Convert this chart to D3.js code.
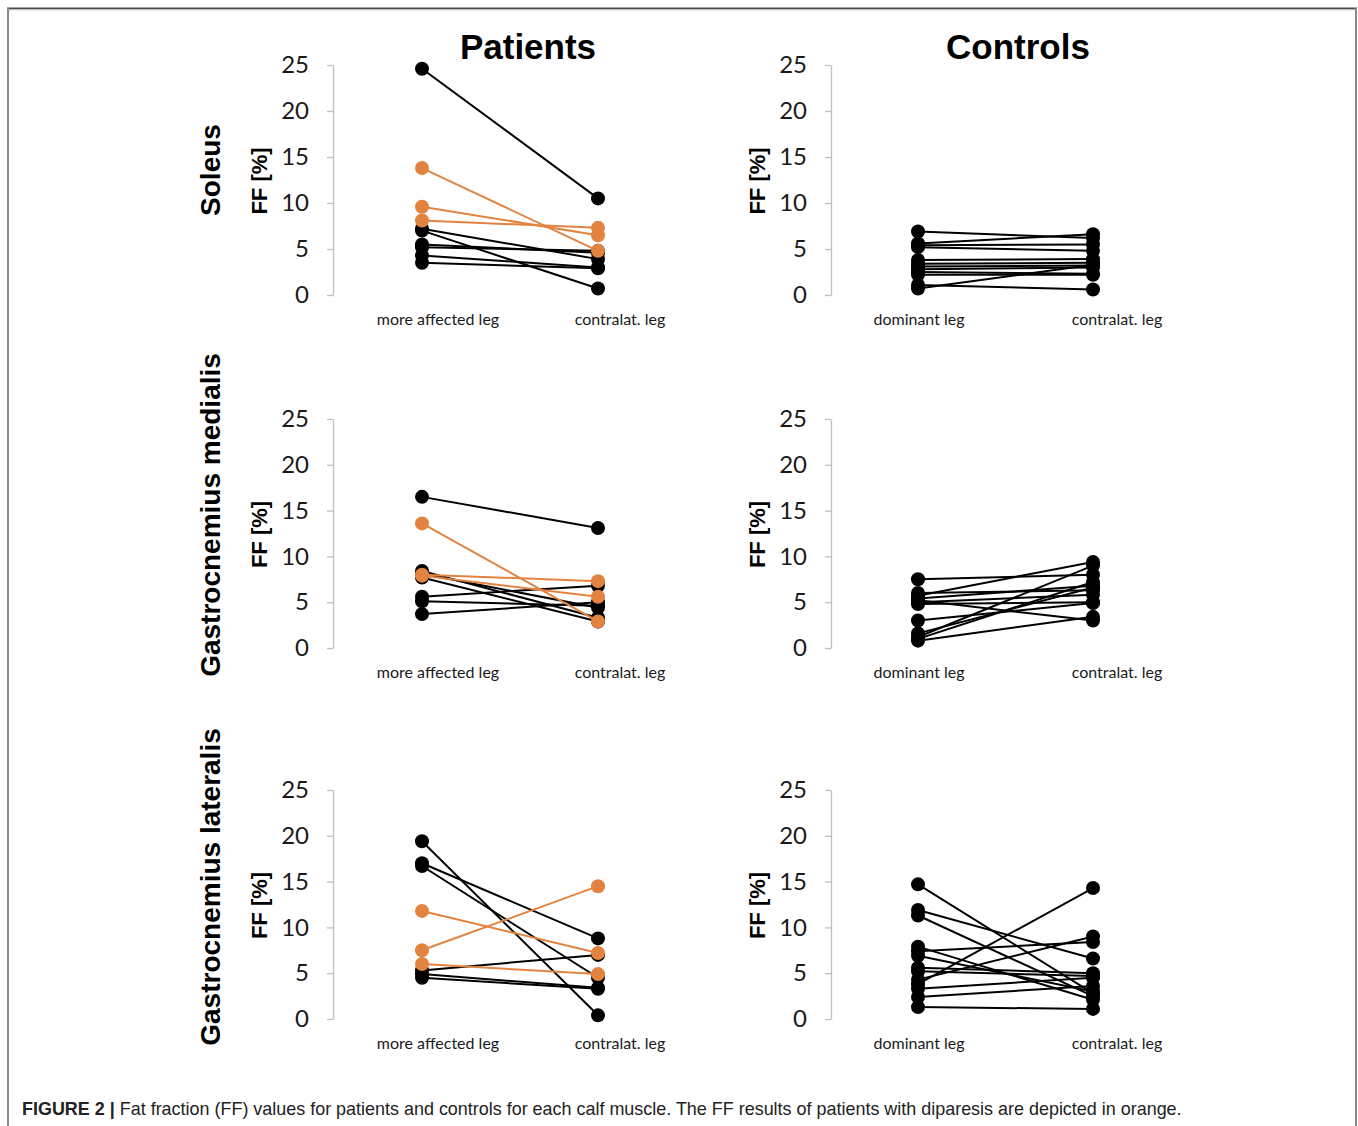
<!DOCTYPE html>
<html><head><meta charset="utf-8">
<script src="https://cdn.jsdelivr.net/npm/d3@7"></script>
<style>body{margin:0;background:#fff}svg{display:block}</style>
</head><body>
<script>
// ---------- data ----------
const muscles = ["Soleus", "Gastrocnemius medialis", "Gastrocnemius lateralis"];
const groups = ["Patients", "Controls"];
const patientCats = ["more affected leg", "contralat. leg"];
const controlCats = ["dominant leg", "contralat. leg"];
const yTicks = [0, 5, 10, 15, 20, 25];
const yLabel = "FF [%]";

// patients: [more affected leg, contralat. leg]
const patSoleusBlack = [[24.6,10.5],[7.2,3.9],[7.0,0.7],[5.5,4.6],[5.2,4.8],[4.3,3.0],[3.5,2.9]];
const patSoleusOrange = [[13.8,4.8],[9.6,6.5],[8.1,7.3]];
const patGMBlack = [[16.5,13.1],[8.4,3.3],[8.1,4.4],[7.7,2.9],[5.6,6.8],[5.1,4.6],[3.7,5.0]];
const patGMOrange = [[13.6,2.9],[8.0,7.3],[7.9,5.6]];
const patGLBlack = [[19.4,0.4],[17.0,8.8],[16.7,4.5],[5.3,7.0],[4.9,3.4],[4.5,3.3]];
const patGLOrange = [[11.8,7.2],[7.5,14.5],[6.0,4.9]];

// controls: [dominant leg, contralat. leg]
const conSoleus = [[6.9,6.2],[5.6,6.6],[5.4,5.5],[5.2,4.8],[3.8,3.9],[3.4,3.5],[3.1,3.2],[2.8,3.0],[2.5,2.3],[2.2,2.2],[0.7,3.3],[1.1,0.6]];
const conGM = [[7.5,8.0],[6.0,6.3],[5.7,9.4],[5.4,6.8],[5.2,3.0],[5.0,5.8],[4.8,5.0],[3.0,4.9],[1.6,6.6],[1.2,9.0],[1.0,7.2],[0.8,3.4]];
const conGL = [[14.7,2.8],[11.9,6.6],[11.3,2.5],[7.9,2.1],[7.4,8.4],[6.9,3.0],[5.6,5.0],[5.2,4.7],[4.3,9.0],[3.8,14.3],[3.3,4.5],[2.4,3.6],[1.3,1.1]];

const captionBold = "FIGURE 2 |";
const captionText = " Fat fraction (FF) values for patients and controls for each calf muscle. The FF results of patients with diparesis are depicted in orange.";

// ---------- layout ----------
const W = 1358, H = 1126;
const BLACK = "#000000", ORANGE = "#e2833f";
const rows = [{top:65, bottom:295}, {top:419, bottom:648}, {top:790, bottom:1019}];
const cols = [
  {axisX:333, x0:422, x1:598, labelX:[438,620], cats:patientCats},
  {axisX:831, x0:918, x1:1093, labelX:[919,1117], cats:controlCats}
];
const panelData = [
  [ [{d:patSoleusBlack,c:BLACK},{d:patSoleusOrange,c:ORANGE}], [{d:conSoleus,c:BLACK}] ],
  [ [{d:patGMBlack,c:BLACK},{d:patGMOrange,c:ORANGE}], [{d:conGM,c:BLACK}] ],
  [ [{d:patGLBlack,c:BLACK},{d:patGLOrange,c:ORANGE}], [{d:conGL,c:BLACK}] ]
];
const muscleCenterY = [170, 515, 887];

const svg = d3.select("body").append("svg").attr("width", W).attr("height", H);
svg.append("rect").attr("width", W).attr("height", H).attr("fill", "#fff");

// frame
svg.append("line").attr("x1",7).attr("x2",1357).attr("y1",8.5).attr("y2",8.5).attr("stroke","#4a4a4a").attr("stroke-width",2);
svg.append("line").attr("x1",7).attr("x2",1357).attr("y1",10).attr("y2",10).attr("stroke","#d8d8d8").attr("stroke-width",1);
svg.append("line").attr("x1",8).attr("x2",8).attr("y1",8).attr("y2",H).attr("stroke","#8a8a8a").attr("stroke-width",2);
svg.append("line").attr("x1",1356).attr("x2",1356).attr("y1",8).attr("y2",H).attr("stroke","#8a8a8a").attr("stroke-width",2);

// group titles
const titleX = [528, 1018];
groups.forEach((g, i) => {
  svg.append("text").attr("x", titleX[i]).attr("y", 59).attr("text-anchor","middle")
    .attr("font-family","Liberation Sans, Arial, sans-serif").attr("font-weight","bold")
    .attr("font-size", 35).attr("fill","#000").text(g);
});

// muscle labels
muscles.forEach((m, r) => {
  svg.append("text").attr("transform", `translate(220,${muscleCenterY[r]}) rotate(-90)`)
    .attr("text-anchor","middle")
    .attr("font-family","Liberation Sans, Arial, sans-serif").attr("font-weight","bold")
    .attr("font-size", 28).attr("fill","#000").text(m);
});

rows.forEach((row, r) => {
  cols.forEach((col, c) => {
    const y = d3.scaleLinear().domain([0,25]).range([row.bottom, row.top]);
    const x = d3.scalePoint().domain(col.cats).range([col.x0, col.x1]);
    const g = svg.append("g");

    // y axis
    const ax = g.append("g").attr("transform", `translate(${col.axisX},0)`)
      .call(d3.axisLeft(y).tickValues(yTicks).tickSize(6).tickSizeOuter(0).tickPadding(18).tickFormat(d3.format("d")));
    ax.select(".domain").attr("stroke","#bfbfbf").attr("stroke-width",1.3);
    ax.selectAll(".tick line").attr("stroke","#bfbfbf").attr("stroke-width",1.3);
    ax.selectAll(".tick text").attr("font-family","Lato, Open Sans, sans-serif").attr("font-size",24).attr("fill","#1a1a1a");

    // y label
    g.append("text").attr("transform", `translate(${col.axisX - 66},${(row.top+row.bottom)/2 + 1}) rotate(-90)`)
      .attr("text-anchor","middle").attr("font-family","Liberation Sans, Arial, sans-serif")
      .attr("font-weight","bold").attr("font-size",22).attr("fill","#000").text(yLabel);

    // category labels
    col.cats.forEach((cat, k) => {
      g.append("text").attr("x", col.labelX[k]).attr("y", row.bottom + 30).attr("text-anchor","middle")
        .attr("font-family","Lato, Open Sans, sans-serif").attr("font-size",16).attr("fill","#1a1a1a").text(cat);
    });

    // series
    const line = d3.line().x((d,i) => x(col.cats[i])).y(d => y(d));
    panelData[r][c].forEach(series => {
      series.d.forEach(pair => {
        const s = g.append("g");
        s.append("path").attr("d", line(pair)).attr("fill","none").attr("stroke", series.c).attr("stroke-width",2);
        s.selectAll("circle").data(pair).join("circle")
          .attr("cx",(d,i) => x(col.cats[i])).attr("cy", d => y(d)).attr("r",7).attr("fill", series.c);
      });
    });
  });
});

// caption
const cap = svg.append("text").attr("x",22).attr("y",1115)
  .attr("font-family","Liberation Sans, Arial, sans-serif").attr("font-size",18).attr("fill","#222");
cap.append("tspan").attr("font-weight","bold").text(captionBold);
cap.append("tspan").text(captionText);
const capW = cap.node().getComputedTextLength();
const target = 1160;
cap.attr("transform", `translate(22,0) scale(${target/capW},1) translate(-22,0)`);
</script>
</body></html>
